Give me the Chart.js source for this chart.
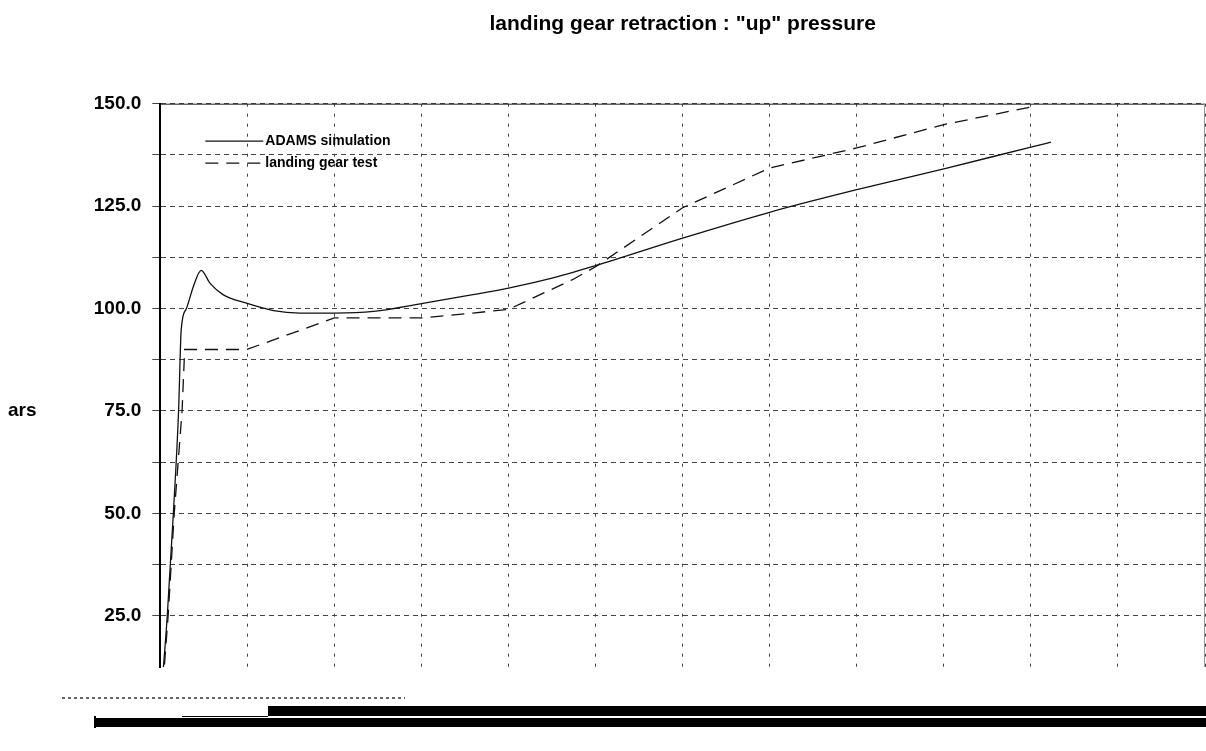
<!DOCTYPE html>
<html>
<head>
<title>landing gear retraction : "up" pressure</title>
<script src="https://cdn.jsdelivr.net/npm/chart.js@4.4.1/dist/chart.umd.min.js"></script>
<style>
  html, body { margin: 0; padding: 0; background: #fff; }
</style>
</head>
<body>
<canvas id="chart" width="1206" height="751"></canvas>
<script>
const titleText = 'landing gear retraction : "up" pressure'
const yUnit = 'ars'

// ADAMS simulation (time axis in grid divisions, pressure in bars)
const simTime = [0.02, 0.08, 0.15, 0.21, 0.24, 0.30, 0.38, 0.47, 0.57, 0.72, 0.99, 1.30, 1.60, 2.0, 2.45, 3.0, 3.59, 4.0, 4.44, 5.0, 6.0, 7.0, 8.0, 9.0, 10.0, 10.23]
const simPressure = [8, 25, 50, 75, 94.8, 100, 105.4, 109.3, 106.2, 103.4, 101.3, 99.5, 98.9, 98.9, 99.3, 101.2, 103.4, 105.0, 107.1, 110.5, 117.2, 123.5, 129.0, 134.1, 139.4, 140.6]

// landing gear test
const testTime = [0.03, 0.09, 0.16, 0.25, 0.28, 0.99, 1.15, 2.0, 3.0, 3.59, 4.0, 4.74, 5.0, 6.0, 7.0, 8.0, 9.0, 10.0, 10.05]
const testPressure = [8, 25, 50, 75, 90, 90, 91.2, 97.7, 97.7, 98.9, 99.8, 107.1, 110.2, 124.6, 134.3, 139.2, 144.9, 149.2, 150]

const FONT = '"Liberation Sans", Arial, sans-serif'
const toPoints = (xs, ys) => xs.map((x, i) => ({ x, y: ys[i] }))

// frame, legend, unit label and the scan bars at the bottom
const decor = {
    id: 'decor',
    afterDraw(chart) {
        const { ctx, chartArea: a, data, scales } = chart
        ctx.save()
        ctx.lineWidth = 1
        ctx.strokeStyle = '#222'
        ctx.beginPath()
        ctx.moveTo(a.left, a.top + 0.5)
        ctx.lineTo(a.right, a.top + 0.5)
        ctx.stroke()
        ctx.strokeStyle = '#999'
        ctx.beginPath()
        ctx.moveTo(a.right - 0.5, a.top)
        ctx.lineTo(a.right - 0.5, a.bottom)
        ctx.stroke()

        ctx.font = 'bold 14px ' + FONT
        ctx.textBaseline = 'middle'
        ctx.textAlign = 'left'
        data.datasets.forEach((ds, i) => {
            const y = a.top + 37.5 + i * 22
            const x0 = a.left + 45
            ctx.strokeStyle = ds.borderColor
            ctx.lineWidth = ds.borderWidth
            ctx.setLineDash(ds.borderDash || [])
            ctx.beginPath()
            ctx.moveTo(x0, y)
            ctx.lineTo(x0 + 58, y)
            ctx.stroke()
            ctx.setLineDash([])
            ctx.fillStyle = '#000'
            ctx.fillText(ds.label, x0 + 60, y)
        })

        ctx.font = 'bold 19px ' + FONT
        ctx.fillText(yUnit, 8, scales.y.getPixelForValue(75))

        // scanner artefacts below the plot
        ctx.fillStyle = '#000'
        ctx.fillRect(268, 706, 938, 10)
        ctx.fillRect(94, 718, 1112, 9)
        ctx.fillRect(94, 716, 2, 12)
        ctx.fillRect(182, 716, 86, 1)
        ctx.strokeStyle = '#333'
        ctx.lineWidth = 1.5
        ctx.setLineDash([3, 3])
        ctx.beginPath()
        ctx.moveTo(62, 698)
        ctx.lineTo(405, 698)
        ctx.stroke()
        ctx.restore()
    }
}

new Chart('chart', {
    type: 'line',
    data: {
        datasets: [
            {
                label: 'ADAMS simulation',
                data: toPoints(simTime, simPressure),
                borderColor: '#111',
                borderWidth: 1.3,
                pointRadius: 0,
                cubicInterpolationMode: 'monotone',
                fill: false,
            },
            {
                label: 'landing gear test',
                data: toPoints(testTime, testPressure),
                borderColor: '#111',
                borderWidth: 1.3,
                borderDash: [13, 8],
                pointRadius: 0,
                tension: 0,
                fill: false,
            },
        ],
    },
    options: {
        responsive: false,
        animation: false,
        events: [],
        layout: { padding: { left: 0, right: 1, top: 0, bottom: 84 } },
        plugins: {
            legend: { display: false },
            tooltip: { enabled: false },
            title: {
                display: true,
                text: titleText,
                fullSize: false,
                color: '#000',
                font: { family: FONT, size: 21, weight: 'bold', lineHeight: 1.2 },
                padding: { top: 12, bottom: 66.5 },
            },
        },
        scales: {
            x: {
                type: 'linear',
                min: 0,
                max: 12,
                ticks: { display: false, stepSize: 1 },
                grid: { color: '#444', lineWidth: 1, drawTicks: false },
                border: { display: false, dash: [3, 7] },
            },
            y: {
                min: 12.5,
                max: 150,
                afterFit: (s) => { s.width = 160.3 },
                ticks: {
                    stepSize: 12.5,
                    padding: 11,
                    color: '#000',
                    font: { family: FONT, size: 19, weight: 'bold' },
                    callback: (v) => (v % 25 === 0 ? v.toFixed(1) : ''),
                },
                grid: {
                    color: (c) => (c.tick && c.tick.value === 12.5 ? 'rgba(0,0,0,0)' : '#444'),
                    lineWidth: 1,
                    tickLength: 8,
                },
                border: { display: true, color: '#000', width: 2, dash: [5, 4] },
            },
        },
    },
    plugins: [decor],
})
</script>
</body>
</html>
